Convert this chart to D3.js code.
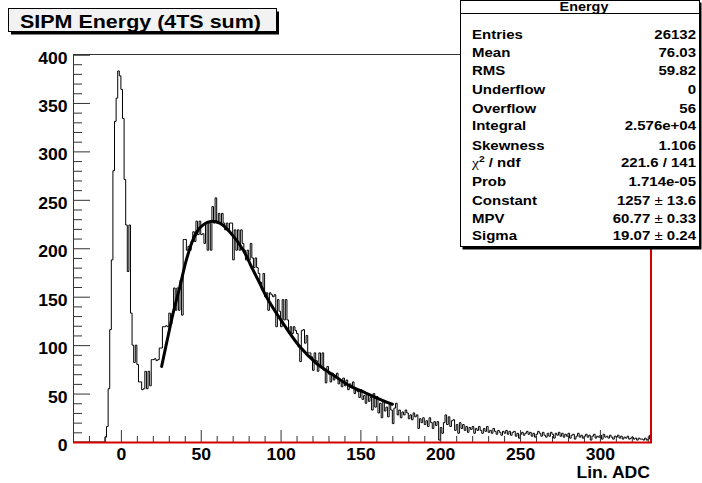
<!DOCTYPE html>
<html><head><meta charset="utf-8">
<script src="https://cdn.jsdelivr.net/npm/d3@7"></script>
<style>
html,body{margin:0;padding:0;background:#fff;}
text{font-family:"Liberation Sans",Arial,Helvetica,sans-serif;font-weight:bold;fill:#000;}
</style></head>
<body>
<svg id="c" width="702" height="483"></svg>
<script>
// ---- data ----
const binStart = -30;
const binWidth = 1;
const counts = [
0,0,0,0,0,0,0,0,0,0,
0,0,0,0,0,0,0,0,0,0,
5,16,55,116,188,280,331,355,383,378,
364,334,271,224,176,224,133,100,82,100,
80,62,62,54,55,73,55,73,58,85,
85,86,84,85,97,97,119,119,120,119,
133,122,133,159,136,159,136,167,131,209,
209,198,202,198,207,217,207,228,214,228,
214,215,205,226,198,226,198,243,226,252,
226,236,226,236,226,219,226,219,226,226,
188,219,198,219,198,219,205,198,188,198,
188,205,190,180,190,180,174,165,157,174,
150,154,136,154,152,150,152,119,147,135,
119,147,126,147,126,112,119,112,119,115,
112,98,83,115,116,102,110,92,92,88,
74,92,84,73,92,78,92,74,61,78,
70,62,71,64,68,71,60,64,57,66,
58,64,54,60,56,62,50,55,52,46,
54,44,48,40,50,42,46,33,50,36,
47,30,40,25,43,32,36,26,40,33,
19,35,40,28,33,25,31,28,33,30,
24,28,23,30,26,28,14,24,20,25,
18,22,16,25,20,14,21,17,21,2,
15,9,20,28,18,26,16,22,23,12,
18,9,20,14,18,12,16,10,15,13,
16,9,14,12,16,12,9,14,11,16,
10,12,9,14,11,8,12,10,7,11,
9,12,8,11,7,10,11,6,9,4,
8,10,7,9,11,8,10,6,9,5,
8,11,9,6,10,7,5,9,6,10,
8,4,9,7,10,6,9,5,8,6,
9,4,7,8,3,6,9,5,7,4,
6,8,5,7,2,6,8,4,6,5,
7,3,8,5,6,4,7,5,3,6,
5,7,4,6,3,5,4,6,3,4,
5,3,4,2,4,3,3,2,4,2,
3,7
];
// Landau fit curve
const fitX = [25.5, 28.6, 32.7, 36.9, 41, 45.2, 49.4, 55.6, 61.9, 68.1, 76.5, 82, 86.9, 91.1, 101.5, 112, 122.4, 132.8, 143.3, 153.7, 167.2, 170];
const fitY = [78, 102, 133, 160, 188, 209, 221, 227.5, 226, 217, 198.5, 180, 164, 150, 122.7, 98.5, 81.3, 69.3, 58, 50.3, 40.6, 39];

const xMajor = [0, 50, 100, 150, 200, 250, 300];
const xMinor = [-20,-10,10,20,30,40,60,70,80,90,110,120,130,140,160,170,180,190,210,220,230,240,260,270,280,290,310,320,330];
const yMajor = [0, 50, 100, 150, 200, 250, 300, 350, 400];
const yMinor = [10,20,30,40,60,70,80,90,110,120,130,140,160,170,180,190,210,220,230,240,260,270,280,290,310,320,330,340,360,370,380,390];

const titleText = "SIPM Energy (4TS sum)";
const xAxisTitle = "Lin. ADC";
const statsTitle = "Energy";
const statsLabels = ["Entries","Mean","RMS","Underflow","Overflow","Integral","Skewness","CHI2","Prob","Constant","MPV","Sigma"];
const statsValues = ["26132","76.03","59.82","0","56","2.576e+04","1.106","221.6 / 141","1.714e-05","1257 ± 13.6","60.77 ± 0.33","19.07 ± 0.24"];
const statsBaselines = [39, 57, 75, 94, 113, 130, 150, 167, 186, 205, 223, 240];

// ---- drawing ----
const svg = d3.select("#c");
const X0 = 73, X1 = 651, Y0 = 442, Y1 = 54.5;
const x = d3.scaleLinear().domain([-30, 332]).range([X0, X1]);
const y = d3.scaleLinear().domain([0, 400]).range([Y0, Y1]);

svg.append("defs").append("clipPath").attr("id","clip")
  .append("rect").attr("x",X0).attr("y",Y1-2).attr("width",X1-X0).attr("height",Y0-Y1+2);

// frame top
svg.append("line").attr("x1",X0).attr("x2",X1).attr("y1",Y1).attr("y2",Y1).attr("stroke","#333").attr("stroke-width",1);

// histogram
const pts = counts.map((c,i)=>[binStart + i*binWidth, c]);
pts.push([binStart + counts.length*binWidth, counts[counts.length-1]]);
const hline = d3.line().x(d=>x(d[0])).y(d=>y(d[1])).curve(d3.curveStepAfter);
svg.append("path").attr("clip-path","url(#clip)").attr("d", hline(pts))
  .attr("fill","none").attr("stroke","#000").attr("stroke-width",1);

// fit
const fl = d3.line().x((d,i)=>x(fitX[i])).y((d,i)=>y(fitY[i])).curve(d3.curveCatmullRom);
svg.append("path").attr("d", fl(fitY)).attr("fill","none").attr("stroke","#000").attr("stroke-width",3).attr("stroke-linecap","round");

// x axis
const gx = svg.append("g").attr("transform",`translate(0,${Y0})`);
gx.call(d3.axisBottom(x).tickValues(xMajor).tickSize(-12).tickPadding(0).tickFormat(d3.format("d")));
gx.select(".domain").attr("stroke","#555");
gx.selectAll(".tick line").attr("stroke","#333");
gx.selectAll(".tick text").attr("y",18).attr("dy",null).attr("transform","scale(1.1,1)");
const gxm = svg.append("g").attr("transform",`translate(0,${Y0})`);
gxm.call(d3.axisBottom(x).tickValues(xMinor).tickSize(-6).tickFormat(""));
gxm.select(".domain").remove();
gxm.selectAll(".tick line").attr("stroke","#333");

// y axis
const gy = svg.append("g").attr("transform",`translate(${X0},0)`);
gy.call(d3.axisLeft(y).tickValues(yMajor).tickSize(-17).tickPadding(5).tickFormat(d3.format("d")));
gy.select(".domain").attr("stroke","#333");
gy.selectAll(".tick line").attr("stroke","#333");
gy.selectAll(".tick text").attr("x",-5).attr("dy",null).attr("y",8.5).attr("transform","scale(1.1,1)");
const gym = svg.append("g").attr("transform",`translate(${X0},0)`);
gym.call(d3.axisLeft(y).tickValues(yMinor).tickSize(-9).tickFormat(""));
gym.select(".domain").remove();
gym.selectAll(".tick line").attr("stroke","#333");
svg.selectAll("g").attr("font-family",null).attr("font-size",null);
svg.selectAll(".tick text").attr("fill","#000").attr("font-size",16);

// red axis lines
svg.append("line").attr("x1",X0).attr("x2",X1+1).attr("y1",Y0+0.5).attr("y2",Y0+0.5).attr("stroke","#d40000").attr("stroke-width",2);
svg.append("line").attr("x1",X1).attr("x2",X1).attr("y1",Y1).attr("y2",Y0+1).attr("stroke","#d40000").attr("stroke-width",2);

// x axis title
svg.append("text").attr("transform",`translate(650,478) scale(1.1,1)`).attr("text-anchor","end").attr("font-size",16).text(xAxisTitle);

// title box
svg.append("rect").attr("x",11).attr("y",11.5).attr("width",268).attr("height",23).attr("fill","#000");
svg.append("rect").attr("x",8.5).attr("y",8.5).attr("width",268).attr("height",23).attr("fill","#f2f2f2").attr("stroke","#000").attr("stroke-width",1);
svg.append("text").attr("transform","translate(20,27.5) scale(1.13,1)").attr("font-size",19).text(titleText);

// stats box
const sb = svg.append("g");
sb.append("rect").attr("x",462.5).attr("y",2.5).attr("width",239).attr("height",247).attr("fill","#000");
sb.append("rect").attr("x",460.5).attr("y",0.5).attr("width",239).attr("height",246).attr("fill","#fff").attr("stroke","#000").attr("stroke-width",1);
sb.append("line").attr("x1",460.5).attr("x2",699.5).attr("y1",13.5).attr("y2",13.5).attr("stroke","#000");
sb.append("text").attr("transform","translate(584,11) scale(1.2,1)").attr("text-anchor","middle").attr("font-size",12).text(statsTitle);
statsLabels.forEach((lab,i)=>{
  const t = sb.append("text").attr("transform",`translate(472,${statsBaselines[i]}) scale(1.2,1)`).attr("font-size",12.5);
  if (lab === "CHI2") {
    t.append("tspan").attr("font-weight","normal").attr("font-family","Liberation Serif, serif").attr("font-size",13).text("χ");
    t.append("tspan").attr("font-size",8.5).attr("dy",-5).text("2");
    t.append("tspan").attr("dy",5).text(" / ndf");
  } else t.text(lab);
  const v = statsValues[i];
  const tv = sb.append("text").attr("transform",`translate(696,${statsBaselines[i]}) scale(1.2,1)`).attr("text-anchor","end").attr("font-size",12.5);
  if (v.includes("±")) {
    const parts = v.split("±");
    tv.append("tspan").text(parts[0]);
    tv.append("tspan").attr("font-weight","normal").text("±");
    tv.append("tspan").text(parts[1]);
  } else tv.text(v);
});
</script>
</body></html>
